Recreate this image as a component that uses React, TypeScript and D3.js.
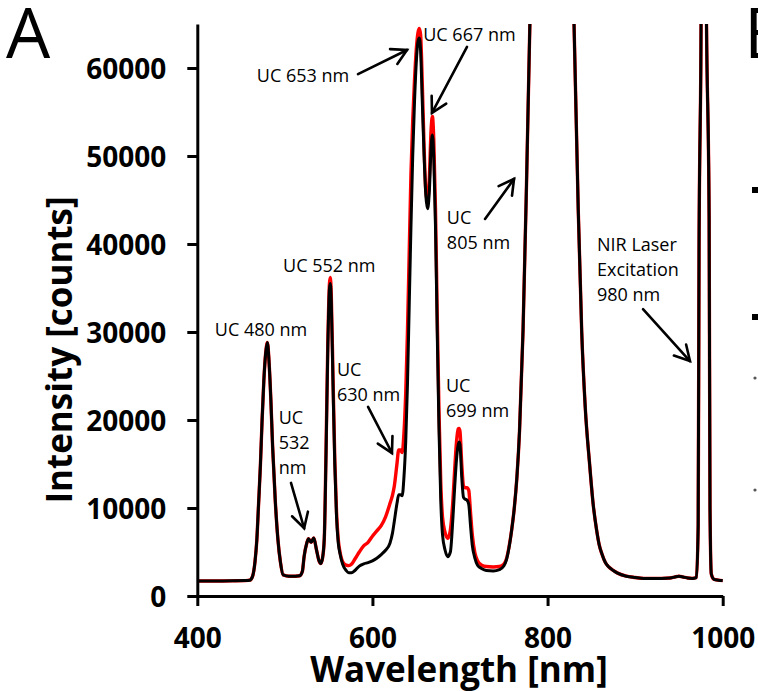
import { useEffect, useRef } from 'react'
import * as d3 from 'd3'

// wavelength in nm, intensity in counts
const wavelength = [
  400, 420, 440, 455, 460, 463, 466, 468, 470, 472, 474, 476, 478, 480, 482, 484, 486, 489, 492, 495, 498,
  505, 512, 517, 520, 522, 525, 527, 530, 533, 536, 539, 541, 543, 545, 547, 549, 551, 552, 553, 555, 557, 559, 561, 563, 566, 570, 573, 576,
  580, 585, 590, 595, 600, 605, 610, 615, 620, 623, 625, 628, 630, 632, 634, 636, 638, 640, 642, 644, 646, 648, 650, 652, 653.5, 655, 657, 659, 661, 663, 665, 667, 668.5, 670, 672, 674, 676, 678, 680, 683, 686,
  689, 692, 694, 696, 698, 699, 700, 702, 704, 706, 708, 710, 712, 714, 717, 720, 725, 730, 738, 745, 750, 753, 756, 759, 762, 765, 768, 772, 776, 780,
  790, 805, 820, 830, 835, 839, 843, 848, 852, 856, 859, 862, 866, 870, 875, 880, 890, 900, 910, 920, 930, 940, 945, 950, 955, 960, 965, 970, 972, 973,
  975, 978, 981.5, 984.5, 985.5, 987, 990, 995, 1000,
]

const countsBlack = [
  1700, 1700, 1720, 1750, 1800, 2200, 4000, 6400, 10500, 14700, 20000, 24500, 27500, 28800, 26500, 22300, 17000, 10900, 6500, 3800, 2400,
  2250, 2250, 2300, 2800, 4500, 6000, 6500, 6100, 6600, 5300, 4000, 3700, 4300, 6500, 16000, 28000, 35000, 35500, 33500, 24000, 15000, 9000, 6000, 4800, 3600, 2900, 2650, 2650,
  2900, 3400, 3650, 3800, 4000, 4300, 4700, 5200, 6000, 7200, 8500, 10500, 11500, 11500, 11400, 13500, 17500, 24000, 33000, 42000, 50000, 56000, 60500, 63000, 63400, 62000, 56000, 50000, 45500, 44000, 46000, 51000, 52400, 50000, 42000, 30000, 19000, 11000, 7000, 5200, 4470,
  5000, 9000, 12500, 15500, 17200, 17500, 17200, 13500, 11200, 11000, 10900, 10400, 8000, 5800, 4300, 3500, 3100, 2900, 2850, 3000, 3400, 4100, 5500, 7500, 10000, 13500, 18800, 30200, 47000, 66000,
  95000, 120000, 95000, 66000, 44000, 30000, 21500, 15000, 10500, 7500, 5800, 4800, 3800, 3300, 2900, 2600, 2250, 2100, 2000, 2000, 2000, 2050, 2150, 2250, 2150, 2050, 2000, 2100, 8000, 40000,
  60000, 120000, 65000, 43000, 10000, 2500, 1900, 1800, 1750,
]

const countsRed = [
  1700, 1700, 1720, 1750, 1800, 2200, 4000, 6400, 10500, 14700, 20000, 24500, 27500, 28800, 26500, 22300, 17000, 10900, 6500, 3800, 2400,
  2250, 2250, 2300, 2800, 4500, 6000, 6500, 6100, 6600, 5300, 4000, 3700, 4300, 6500, 16500, 28500, 35600, 36200, 34200, 24800, 15600, 9500, 6400, 5000, 3900, 3500, 3450, 3600,
  4200, 5000, 5700, 6100, 6800, 7400, 8000, 9000, 10500, 11500, 12500, 15000, 16600, 16600, 16300, 18500, 23000, 30000, 39000, 48000, 54000, 58500, 62000, 64000, 64500, 63800, 58000, 51000, 46000, 44800, 47500, 53000, 54500, 52000, 44000, 32000, 21000, 13000, 9000, 7200, 6550,
  7500, 11000, 14500, 17500, 19000, 19050, 18700, 15000, 12500, 12300, 12300, 12000, 9500, 7000, 4900, 4000, 3500, 3350, 3300, 3350, 3600, 4200, 5600, 7500, 10000, 13500, 18800, 30200, 47000, 66000,
  95000, 120000, 95000, 66000, 44000, 30000, 21500, 15000, 10500, 7500, 5800, 4800, 3800, 3300, 2900, 2600, 2250, 2100, 2000, 2000, 2000, 2050, 2150, 2250, 2150, 2050, 2000, 2100, 8000, 40000,
  60000, 120000, 65000, 43000, 10000, 2500, 1900, 1800, 1750,
]

const xTicks = [400, 600, 800, 1000]
const yTicks = [0, 10000, 20000, 30000, 40000, 50000, 60000]

// annotation text, anchored in data units (wavelength, counts)
const notes = [
  { lines: ['UC 653 nm'], wl: 468, counts: 58400 },
  { lines: ['UC 667 nm'], wl: 658, counts: 63100 },
  { lines: ['UC 552 nm'], wl: 498, counts: 36800 },
  { lines: ['UC 480 nm'], wl: 420, counts: 29500 },
  { lines: ['UC', '532', 'nm'], wl: 493, counts: 19500 },
  { lines: ['UC', '630 nm'], wl: 559.5, counts: 25000 },
  { lines: ['UC', '699 nm'], wl: 684, counts: 23200 },
  { lines: ['UC', '805 nm'], wl: 685, counts: 42300 },
  { lines: ['NIR Laser', 'Excitation', '980 nm'], wl: 856.5, counts: 39200 },
]

const arrows = [
  { from: [583.5, 59300], to: [639.5, 62050] },
  { from: [708, 62400], to: [668, 54900] },
  { from: [507, 12850], to: [522, 7700] },
  { from: [595, 21500], to: [622.3, 16250] },
  { from: [728.6, 42850], to: [761.7, 47400] },
  { from: [909, 32600], to: [962.6, 26700] },
]

const FONT = "'Open Sans', sans-serif"
const W = 758
const H = 691

const SpectrumChart = () => {
  const svgRef = useRef<SVGSVGElement>(null)

  useEffect(() => {
    if (!svgRef.current) return
    const svg = d3.select(svgRef.current)
    svg.selectAll('*').remove()

    const x = d3.scaleLinear().domain([400, 1000]).range([197.3, 722.7])
    const y = d3.scaleLinear().domain([0, 65000]).range([596, 24])

    svg.append('defs').append('clipPath').attr('id', 'plot-clip')
      .append('rect')
      .attr('x', x(400)).attr('y', y(65000))
      .attr('width', x(1000) - x(400) + 4).attr('height', y(0) - y(65000) + 10)

    const line = d3.line<number>()
      .x((_, i) => x(wavelength[i]))
      .y(d => y(d))
      .curve(d3.curveMonotoneX)

    const plot = svg.append('g').attr('clip-path', 'url(#plot-clip)')
    plot.append('path')
      .attr('d', line(countsRed))
      .attr('fill', 'none')
      .attr('stroke', '#ff0000')
      .attr('stroke-width', 3.4)
      .attr('stroke-linejoin', 'round')
    plot.append('path')
      .attr('d', line(countsBlack))
      .attr('fill', 'none')
      .attr('stroke', '#000')
      .attr('stroke-width', 3)
      .attr('stroke-linejoin', 'round')

    // axes
    const xAxis = svg.append('g')
      .attr('transform', `translate(0,${y(0)})`)
      .call(d3.axisBottom(x).tickValues(xTicks).tickSize(10).tickSizeOuter(0).tickPadding(22).tickFormat(d3.format('d')))
    const yAxis = svg.append('g')
      .attr('transform', `translate(${x(400)},0)`)
      .call(d3.axisLeft(y).tickValues(yTicks).tickSize(10).tickSizeOuter(0).tickPadding(21).tickFormat(d3.format('d')))

    for (const axis of [xAxis, yAxis]) {
      axis.select('.domain').attr('stroke', '#000').attr('stroke-width', 3)
      axis.selectAll('.tick line').attr('stroke', '#000').attr('stroke-width', 3)
      axis.selectAll('.tick text')
        .attr('fill', '#000')
        .attr('font-family', FONT)
        .attr('font-weight', 700)
        .attr('font-size', 28)
    }
    yAxis.selectAll('.tick text').attr('dy', '0.36em')

    svg.append('text')
      .attr('x', (x(400) + x(1000)) / 2 - 1)
      .attr('y', 682)
      .attr('text-anchor', 'middle')
      .attr('font-family', FONT)
      .attr('font-weight', 700)
      .attr('font-size', 35)
      .text('Wavelength [nm]')

    svg.append('text')
      .attr('transform', `translate(72,${350}) rotate(-90)`)
      .attr('text-anchor', 'middle')
      .attr('font-family', FONT)
      .attr('font-weight', 700)
      .attr('font-size', 35)
      .text('Intensity [counts]')

    // annotations
    const noteG = svg.append('g')
      .attr('font-family', FONT)
      .attr('font-size', 18)
      .attr('fill', '#000')
    notes.forEach(n => {
      const t = noteG.append('text')
        .attr('x', x(n.wl))
        .attr('y', y(n.counts))
      n.lines.forEach((s, i) => {
        t.append('tspan')
          .attr('x', x(n.wl))
          .attr('dy', i === 0 ? 0 : 25)
          .text(s)
      })
    })

    const arrowG = svg.append('g')
      .attr('stroke', '#000')
      .attr('stroke-width', 2.6)
      .attr('fill', 'none')
      .attr('stroke-linecap', 'round')
    arrows.forEach(a => {
      const x0 = x(a.from[0]), y0 = y(a.from[1])
      const x1 = x(a.to[0]), y1 = y(a.to[1])
      const ang = Math.atan2(y0 - y1, x0 - x1)
      const len = 17
      const spread = Math.PI / 6.2
      arrowG.append('line')
        .attr('x1', x0).attr('y1', y0).attr('x2', x1).attr('y2', y1)
      arrowG.append('polyline')
        .attr('stroke-linejoin', 'miter')
        .attr('points', [
          [x1 + len * Math.cos(ang + spread), y1 + len * Math.sin(ang + spread)],
          [x1, y1],
          [x1 + len * Math.cos(ang - spread), y1 + len * Math.sin(ang - spread)],
        ].map(p => p.join(',')).join(' '))
    })

    // panel letters
    svg.append('text')
      .attr('x', 6).attr('y', 58)
      .attr('font-family', FONT)
      .attr('font-size', 70)
      .text('A')
    svg.append('text')
      .attr('x', 744).attr('y', 58)
      .attr('font-family', FONT)
      .attr('font-size', 70)
      .text('B')

    // bits of the neighbouring panel peeking in at the right edge
    const edge = svg.append('g').attr('fill', '#000')
    edge.append('rect').attr('x', 752).attr('y', 187).attr('width', 6).attr('height', 6)
    edge.append('rect').attr('x', 752).attr('y', 314).attr('width', 6).attr('height', 6)
    edge.append('circle').attr('cx', 755).attr('cy', 378).attr('r', 1.6).attr('fill', '#555')
    edge.append('circle').attr('cx', 755).attr('cy', 490).attr('r', 1.6).attr('fill', '#555')
  }, [])

  return (
    <svg
      ref={svgRef}
      width={W}
      height={H}
      viewBox={`0 0 ${W} ${H}`}
      style={{ position: 'absolute', left: 0, top: 0, background: '#fff' }}
    />
  )
}

export default function App() {
  return <SpectrumChart />
}
